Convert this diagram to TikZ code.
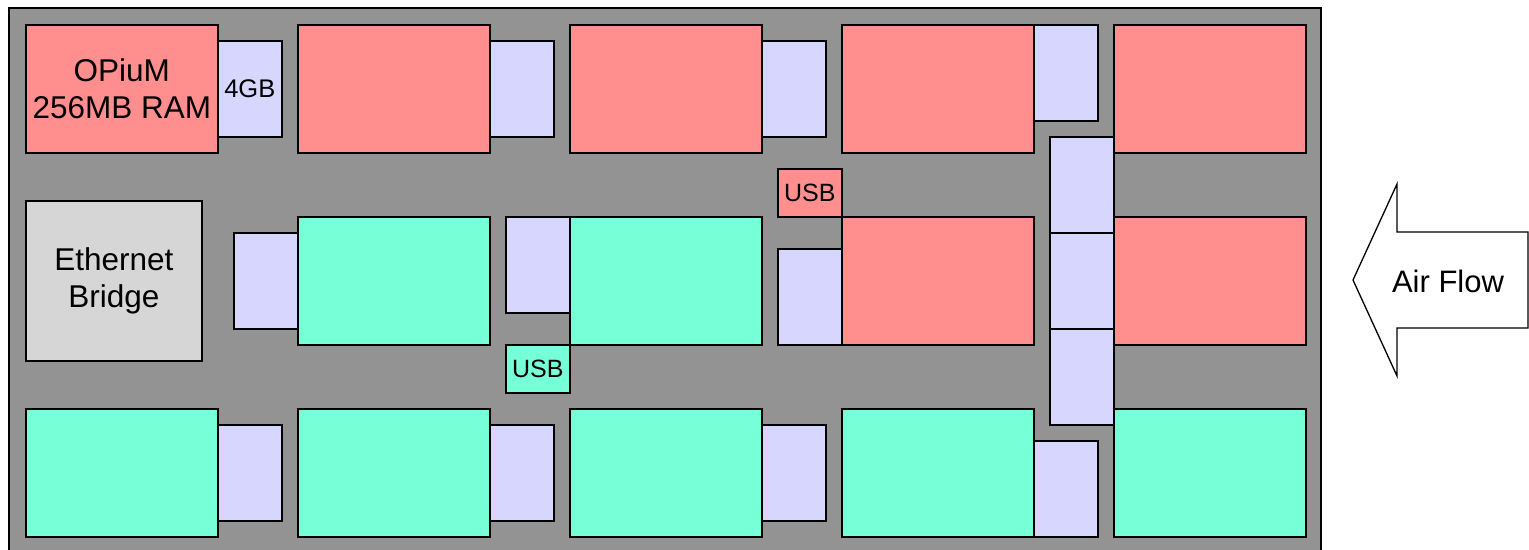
\documentclass[tikz,border=0pt]{standalone}
\usepackage{fontspec}
\setmainfont{Liberation Sans}
\definecolor{pired}{HTML}{FF8F8F}
\definecolor{pigreen}{HTML}{77FFD7}
\definecolor{sdcol}{HTML}{D6D6FF}
\definecolor{framegray}{HTML}{939393}
\definecolor{ethgray}{HTML}{D6D6D6}
\tikzset{
  box/.style={draw=black, line width=1.6pt, inner sep=0pt, anchor=north west, align=center},
  pired/.style={box, fill=pired, minimum width=192pt, minimum height=128pt},
  pigreen/.style={box, fill=pigreen, minimum width=192pt, minimum height=128pt},
  sd/.style={box, fill=sdcol, minimum width=64pt, minimum height=96pt},
  usbred/.style={box, fill=pired, minimum width=64pt, minimum height=48pt, font=\fontsize{25}{30}\selectfont},
  usbgreen/.style={box, fill=pigreen, minimum width=64pt, minimum height=48pt, font=\fontsize{25}{30}\selectfont},
  bigtext/.style={font=\fontsize{31.5}{37.5}\selectfont},
}
\begin{document}
\begin{tikzpicture}[x=1pt,y=-1pt]
\useasboundingbox (0,0) rectangle (1529,549);
\clip (0,0) rectangle (1529,549);
\draw[fill=framegray, line width=1.6pt] (9,8) rectangle (1321,570);
% row 1
\node[pired, bigtext] (p11) at (25,24) {OPiuM\\256MB RAM};
\node[sd, font=\fontsize{25.5}{30}\selectfont] (s11) at (217,40) {4GB};
\node[pired] (p12) at (297,24) {};
\node[sd] (s12) at (489,40) {};
\node[pired] (p13) at (569,24) {};
\node[sd] (s13) at (761,40) {};
\node[pired] (p14) at (841,24) {};
\node[sd] (s14) at (1033,24) {};
\node[pired] (p15) at (1113,24) {};
\node[sd] (v1) at (1049,136) {};
\node[sd] (v2) at (1049,232) {};
\node[sd] (v3) at (1049,328) {};
% row 2
\node[box, fill=ethgray, minimum width=176pt, minimum height=160pt, bigtext] (eth) at (25,200) {Ethernet\\Bridge};
\node[sd] (s21) at (233,232) {};
\node[pigreen] (p21) at (297,216) {};
\node[sd] (s22) at (505,216) {};
\node[pigreen] (p22) at (569,216) {};
\node[usbgreen] (u1) at (505,344) {USB};
\node[usbred] (u2) at (777,168) {USB};
\node[sd] (s23) at (777,248) {};
\node[pired] (p23) at (841,216) {};
\node[pired] (p24) at (1113,216) {};
% row 3
\node[pigreen] (p31) at (25,408) {};
\node[sd] (s31) at (217,424) {};
\node[pigreen] (p32) at (297,408) {};
\node[sd] (s32) at (489,424) {};
\node[pigreen] (p33) at (569,408) {};
\node[sd] (s33) at (761,424) {};
\node[pigreen] (p34) at (841,408) {};
\node[sd] (s34) at (1033,440) {};
\node[pigreen] (p35) at (1113,408) {};
% air flow arrow
\draw[fill=white, line width=1.3pt, line join=miter] (1528,232) -- (1397,232) -- (1397,184) -- (1353,280) -- (1397,376) -- (1397,328) -- (1528,328) -- cycle;
\node[font=\fontsize{31}{37}\selectfont] (air) at (1448,281) {Air Flow};
\end{tikzpicture}
\end{document}
